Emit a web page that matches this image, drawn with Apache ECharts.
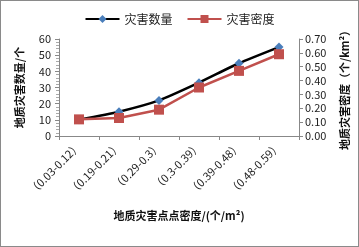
<!DOCTYPE html>
<html><head><meta charset="utf-8">
<script src="https://cdn.jsdelivr.net/npm/echarts@6/dist/echarts.min.js"></script>
<style>html,body{margin:0;padding:0;background:#fff}
#c{width:359px;height:247px;box-sizing:border-box;border:1px solid #8a8a8a}</style>
</head><body><div id="c"></div>
<script>
var categories = ['（0.03-0.12）','（0.19-0.21）','（0.29-0.3）','（0.3-0.39）','（0.39-0.48）','（0.48-0.59）'];
var countValues = [10, 15, 22, 33, 45, 55];
var densityValues = [0.12, 0.13, 0.19, 0.35, 0.47, 0.59];
var leftTicks = [0, 60, 10];
var rightTicks = [0, 0.7, 0.1];

var chart = echarts.init(document.getElementById('c'));
var font = '"Noto Sans CJK SC","Noto Sans",sans-serif';
chart.setOption({
  animation: false,
  textStyle: {fontFamily: font},
  legend: {
    top: 7, left: 'center', itemGap: 14, itemWidth: 34, itemHeight: 10,
    textStyle: {fontSize: 12, color: '#222', fontFamily: font},
    data: [{name: '灾害数量'}, {name: '灾害密度'}]
  },
  grid: {left: 58, right: 59, top: 38, bottom: 110},
  xAxis: {
    type: 'category', data: categories, boundaryGap: true,
    axisLine: {lineStyle: {color: '#888'}},
    axisTick: {show: true, length: 4, lineStyle: {color: '#888'}},
    axisLabel: {rotate: 45, fontSize: 11, color: '#222', margin: 8, interval: 0},
    name: '地质灾害点点密度/(个/m²)', nameLocation: 'middle', nameGap: 74,
    nameTextStyle: {fontSize: 11, fontWeight: 'bold', color: '#111'}
  },
  yAxis: [{
    type: 'value', min: leftTicks[0], max: leftTicks[1], interval: leftTicks[2],
    axisLine: {show: true, lineStyle: {color: '#888'}},
    axisTick: {show: true, length: 4, lineStyle: {color: '#888'}},
    minorTick: {show: true, splitNumber: 5, length: 3, lineStyle: {color: '#aaa'}},
    splitLine: {show: false},
    axisLabel: {fontSize: 11, color: '#222', margin: 8},
    name: '地质灾害数量/个', nameLocation: 'middle', nameGap: 34, nameRotate: 90,
    nameTextStyle: {fontSize: 11, fontWeight: 'bold', color: '#111'}
  }, {
    type: 'value', min: rightTicks[0], max: rightTicks[1], interval: rightTicks[2],
    position: 'right',
    axisLine: {show: true, lineStyle: {color: '#888'}},
    axisTick: {show: true, length: 4, lineStyle: {color: '#888'}},
    splitLine: {show: false},
    axisLabel: {fontSize: 11, color: '#222', margin: 6, formatter: function(v){return v.toFixed(2);}},
    name: '地质灾害密度（个/km²）', nameLocation: 'middle', nameGap: 40, nameRotate: 90,
    nameTextStyle: {fontSize: 11, fontWeight: 'bold', color: '#111'}
  }],
  series: [{
    name: '灾害数量', type: 'line', yAxisIndex: 0, data: countValues,
    smooth: 0.2, symbol: 'diamond', symbolSize: 9,
    lineStyle: {color: '#000', width: 2.5},
    itemStyle: {color: '#4a7ebb'}, z: 2
  }, {
    name: '灾害密度', type: 'line', yAxisIndex: 1, data: densityValues,
    symbol: 'rect', symbolSize: 10,
    lineStyle: {color: '#c0504d', width: 2.5},
    itemStyle: {color: '#c0504d'}, z: 3
  }]
});
</script></body></html>
